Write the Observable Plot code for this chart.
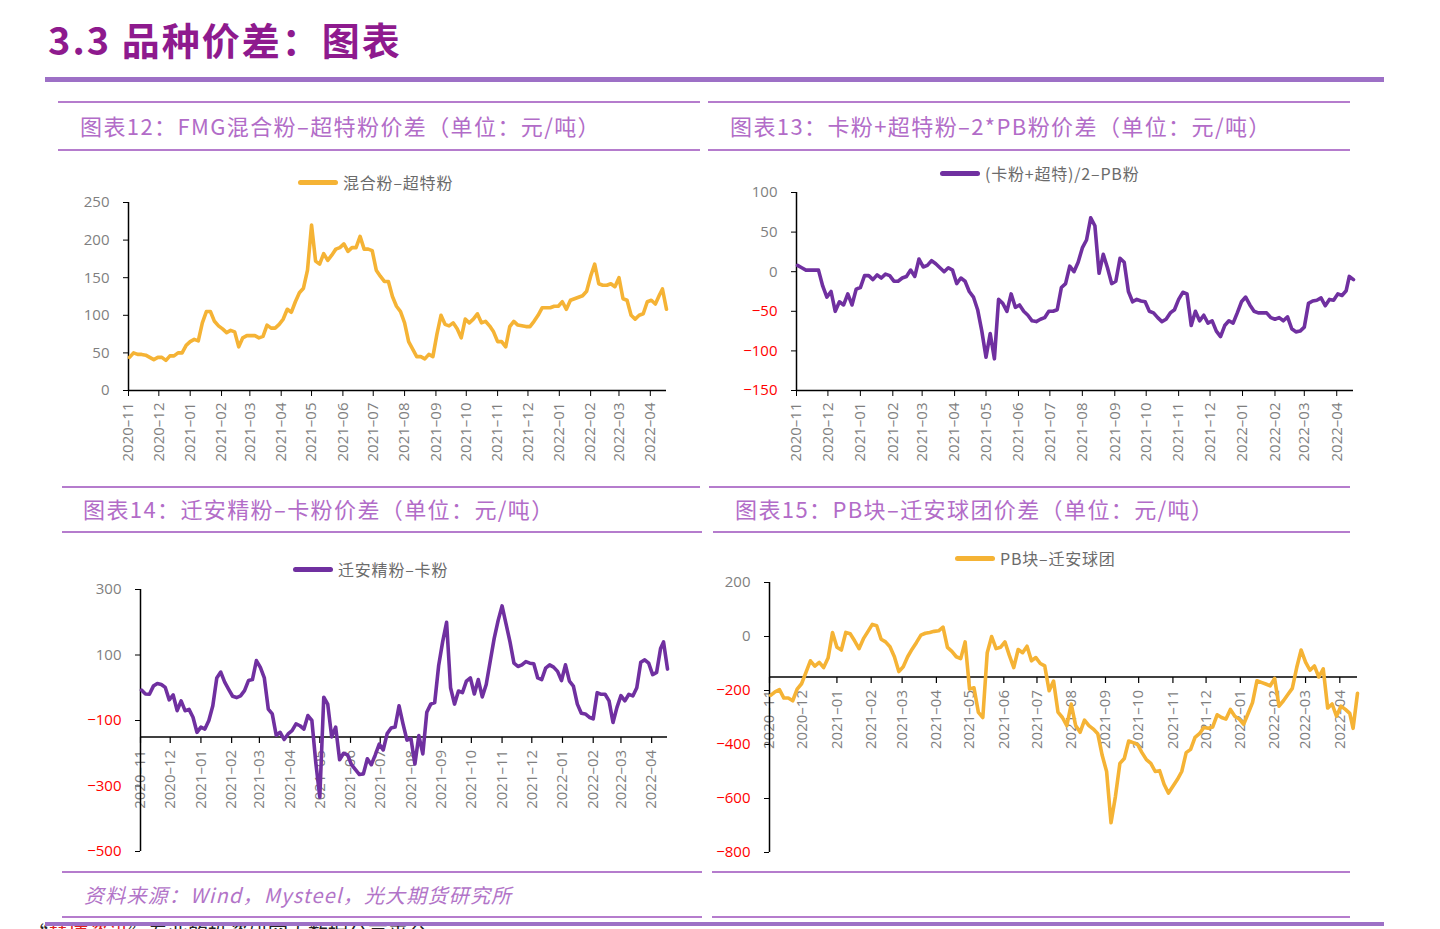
<!DOCTYPE html>
<html><head><meta charset="utf-8">
<script src="https://cdn.jsdelivr.net/npm/d3@7"></script>
<script src="https://cdn.jsdelivr.net/npm/@observablehq/plot@0.6"></script>
<style>
body{margin:0;width:1440px;height:929px;overflow:hidden;background:#fff;position:relative;font-family:"Noto Sans CJK SC","Noto Sans",sans-serif;}
.abs{position:absolute;}
.hline{position:absolute;height:2px;background:#b57ccd;}
.head{position:absolute;font-size:22px;letter-spacing:1.4px;color:#b26cc8;white-space:nowrap;line-height:26px;}
.leg{position:absolute;font-size:16px;letter-spacing:0.8px;color:#6b6b6b;white-space:nowrap;line-height:18px;display:flex;align-items:center;}
.leg span.sw{display:inline-block;width:40px;height:5px;border-radius:3px;margin-right:5px;}
.panel{position:absolute;}
</style></head><body>
<div class="abs" style="left:48px;top:13px;font-size:38px;letter-spacing:2px;font-weight:700;color:#8e1a8e;white-space:nowrap;line-height:52px;">3.3 品种价差：图表</div>
<div class="abs" style="left:45px;top:77px;width:1339px;height:5px;background:#9d70c6;"></div>

<div class="hline" style="left:58px;top:101px;width:642px;"></div>
<div class="hline" style="left:58px;top:149px;width:642px;"></div>
<div class="hline" style="left:708px;top:101px;width:642px;"></div>
<div class="hline" style="left:708px;top:149px;width:642px;"></div>
<div class="head" style="left:80px;top:112px;">图表12：FMG混合粉–超特粉价差（单位：元/吨）</div>
<div class="head" style="left:730px;top:112px;">图表13：卡粉+超特粉–2*PB粉价差（单位：元/吨）</div>

<div class="hline" style="left:62px;top:486px;width:638px;"></div>
<div class="hline" style="left:62px;top:531px;width:640px;"></div>
<div class="hline" style="left:709px;top:486px;width:641px;"></div>
<div class="hline" style="left:713px;top:531px;width:637px;"></div>
<div class="head" style="left:83px;top:495px;">图表14：迁安精粉–卡粉价差（单位：元/吨）</div>
<div class="head" style="left:735px;top:495px;">图表15：PB块–迁安球团价差（单位：元/吨）</div>

<div class="hline" style="left:62px;top:871px;width:640px;"></div>
<div class="hline" style="left:62px;top:916px;width:640px;"></div>
<div class="hline" style="left:712px;top:871px;width:638px;"></div>
<div class="hline" style="left:712px;top:916px;width:638px;"></div>
<div class="abs" style="left:84px;top:881px;font-size:20px;letter-spacing:1.2px;font-style:italic;color:#b274c8;white-space:nowrap;line-height:28px;">资料来源：Wind，Mysteel，光大期货研究所</div>
<div class="abs" style="left:28px;top:921px;font-size:20px;color:#222;white-space:nowrap;line-height:24px;">“<span style="color:#e02020">慧博资讯</span>”专业的投资研究大数据分享平台</div>
<div class="abs" style="left:45px;top:922px;width:1339px;height:4px;background:#9d70c6;"></div>

<div class="leg" style="left:298px;top:173px;"><span class="sw" style="background:#f5b335"></span>混合粉–超特粉</div>
<div class="leg" style="left:940px;top:164px;"><span class="sw" style="background:#7030a0"></span>(卡粉+超特)/2–PB粉</div>
<div class="leg" style="left:293px;top:560px;"><span class="sw" style="background:#7030a0"></span>迁安精粉–卡粉</div>
<div class="leg" style="left:955px;top:549px;"><span class="sw" style="background:#f5b335"></span>PB块–迁安球团</div>

<div id="p1" class="panel" style="left:60px;top:160px;"></div>
<div id="p2" class="panel" style="left:720px;top:150px;"></div>
<div id="p3" class="panel" style="left:60px;top:540px;"></div>
<div id="p4" class="panel" style="left:700px;top:540px;"></div>

<script>
const dates = [
"2020-11-02","2020-11-06","2020-11-10","2020-11-14","2020-11-18","2020-11-22","2020-11-26","2020-11-30",
"2020-12-04","2020-12-08","2020-12-12","2020-12-16","2020-12-20","2020-12-24","2020-12-28",
"2021-01-01","2021-01-05","2021-01-09","2021-01-13","2021-01-17","2021-01-21","2021-01-25","2021-01-29",
"2021-02-02","2021-02-06","2021-02-10","2021-02-14","2021-02-18","2021-02-22","2021-02-26",
"2021-03-02","2021-03-06","2021-03-10","2021-03-14","2021-03-18","2021-03-22","2021-03-26","2021-03-30",
"2021-04-03","2021-04-07","2021-04-11","2021-04-15","2021-04-19","2021-04-23","2021-04-27",
"2021-05-01","2021-05-05","2021-05-09","2021-05-13","2021-05-17","2021-05-21","2021-05-25","2021-05-29",
"2021-06-02","2021-06-06","2021-06-10","2021-06-14","2021-06-18","2021-06-22","2021-06-26","2021-06-30",
"2021-07-04","2021-07-08","2021-07-12","2021-07-16","2021-07-20","2021-07-24","2021-07-28",
"2021-08-01","2021-08-05","2021-08-09","2021-08-13","2021-08-17","2021-08-21","2021-08-25","2021-08-29",
"2021-09-02","2021-09-06","2021-09-10","2021-09-14","2021-09-18","2021-09-22","2021-09-26","2021-09-30",
"2021-10-04","2021-10-08","2021-10-12","2021-10-16","2021-10-20","2021-10-24","2021-10-28",
"2021-11-01","2021-11-05","2021-11-09","2021-11-13","2021-11-17","2021-11-21","2021-11-25","2021-11-29",
"2021-12-03","2021-12-07","2021-12-11","2021-12-15","2021-12-19","2021-12-23","2021-12-27","2021-12-31",
"2022-01-04","2022-01-08","2022-01-12","2022-01-16","2022-01-20","2022-01-24","2022-01-28",
"2022-02-01","2022-02-05","2022-02-09","2022-02-13","2022-02-17","2022-02-21","2022-02-25",
"2022-03-01","2022-03-05","2022-03-09","2022-03-13","2022-03-17","2022-03-21","2022-03-25","2022-03-29",
"2022-04-02","2022-04-06","2022-04-10","2022-04-13","2022-04-17"
];

const monthTicks = ["2020-11-01","2020-12-01","2021-01-01","2021-02-01","2021-03-01","2021-04-01","2021-05-01","2021-06-01","2021-07-01","2021-08-01","2021-09-01","2021-10-01","2021-11-01","2021-12-01","2022-01-01","2022-02-01","2022-03-01","2022-04-01"];

// 图表12：FMG混合粉–超特粉
const fmgMinusSuper = [
44,50,48,48,47,44,41,44,
44,40,46,46,50,50,60,
65,68,66,90,105,105,92,86,
82,77,80,78,58,70,73,
73,73,70,72,87,83,83,88,
95,108,104,118,130,136,160,
220,172,168,182,173,180,188,190,
195,185,190,190,205,188,188,186,
160,152,145,145,125,112,105,
90,65,55,45,45,42,48,45,
75,100,88,86,90,82,70,95,
90,95,102,90,92,86,78,
65,65,58,85,92,87,86,85,
85,92,100,110,110,110,112,112,
118,108,120,122,124,126,132,
152,168,142,140,140,142,138,
150,122,120,100,95,100,102,118,
120,115,127,135,108
];

// 图表13：(卡粉+超特)/2–PB粉
const kaSuperMinusPB = [
8,5,2,2,2,2,-18,-32,
-25,-50,-38,-42,-28,-42,-22,
-20,-5,-5,-10,-4,-8,-3,-5,
-12,-12,-8,-6,2,-6,16,
6,8,14,10,5,0,5,2,
-15,-8,-12,-25,-32,-48,-75,
-108,-78,-110,-35,-40,-50,-28,-45,
-42,-50,-55,-62,-63,-60,-58,-50,
-50,-48,-20,-15,7,0,12,
30,40,68,58,-2,22,5,-15,
-12,17,12,-25,-38,-35,-37,-38,
-50,-52,-58,-63,-60,-52,-48,
-35,-26,-28,-68,-50,-62,-55,-65,
-62,-75,-82,-68,-62,-65,-52,-38,
-32,-42,-50,-52,-52,-52,-58,
-60,-58,-62,-57,-72,-76,-75,
-70,-40,-37,-36,-33,-43,-35,-36,
-28,-30,-24,-6,-10
];

// 图表14：迁安精粉–卡粉
const qiananMinusKa = [
-7,-19,-20,5,13,10,1,-37,
-22,-70,-40,-70,-66,-90,-136,
-120,-126,-100,-55,30,48,17,-5,
-26,-30,-25,-9,22,25,83,
62,30,-65,-80,-145,-136,-158,-141,
-131,-110,-116,-126,-85,-100,-230,
-334,-29,-50,-150,-120,-220,-200,-205,
-235,-250,-265,-263,-217,-235,-205,-172,
-190,-140,-123,-120,-55,-110,-160,
-155,-233,-146,-202,-75,-50,-45,68,
140,200,0,-50,-10,-15,20,30,
-19,25,-28,10,80,150,205,
250,195,140,75,65,70,80,75,
73,30,25,60,70,63,50,22,
70,20,5,-50,-78,-80,-90,
-95,-15,-20,-20,-40,-106,-60,
-24,-40,-20,-25,0,78,85,75,
40,47,120,140,57
];

// 图表15：PB块–迁安球团
const pbLumpMinusPellet = [
-218,-205,-197,-228,-228,-238,-195,-175,
-133,-90,-110,-96,-115,-80,15,
-40,-50,15,10,-16,-45,-8,18,
45,40,-10,-20,-38,-75,-130,
-112,-75,-47,-22,5,12,15,19,
21,35,-40,-55,-75,-82,-20,
-195,-190,-281,-300,-60,0,-45,-40,
-20,-70,-115,-48,-60,-36,-90,-78,
-100,-109,-201,-165,-280,-300,-330,
-250,-330,-355,-310,-330,-343,-360,-440,
-500,-690,-592,-470,-452,-387,-393,-400,
-430,-456,-470,-500,-497,-547,-580,
-555,-530,-500,-430,-418,-374,-360,-337,
-340,-335,-290,-300,-306,-270,-295,-306,
-325,-285,-245,-164,-170,-176,-183,
-155,-258,-238,-215,-192,-115,-50,
-95,-125,-109,-150,-120,-265,-250,-295,
-258,-270,-285,-340,-210
];

const ORANGE = "#f5b335", PURPLE = "#7030a0";
const xStart = new Date("2020-11-01"), xEnd = new Date("2022-04-17");
const fmtMonth = d => d3.utcFormat("%Y")(d) + "–" + d3.utcFormat("%m")(d);
const tickSym = {draw(ctx){ ctx.moveTo(0,0); ctx.lineTo(0,6); }};

function panel(id, {vals, color, yDomain, yTicks, width, height, m, axisAt}) {
  const data = dates.map((d,i) => ({date: new Date(d), v: vals[i]}));
  const months = monthTicks.map(d => new Date(d));
  const neg = yTicks.filter(t => t < 0), pos = yTicks.filter(t => t >= 0);
  const marks = [];
  marks.push(Plot.axisY({ticks: yTicks, tickSize: 5, tickFormat: () => "", color: "#000", label: null}));
  marks.push(Plot.axisY({ticks: pos, tickSize: 0, tickPadding: 19, color: "#7f7f7f", fontSize: 15, label: null}));
  if (neg.length) marks.push(Plot.axisY({ticks: neg, tickSize: 0, tickPadding: 19, color: "#ff0000", fontSize: 15, label: null}));
  if (axisAt === null) {
    marks.push(Plot.axisX({ticks: months, tickSize: 6, tickFormat: () => "", color: "#000", label: null}));
    marks.push(Plot.axisX({ticks: months, tickSize: 0, tickPadding: 12, tickRotate: -90, tickFormat: fmtMonth, color: "#7f7f7f", fontSize: 15, label: null}));
    marks.push(Plot.ruleY([yDomain[0]], {stroke: "#000", strokeWidth: 1.5}));
  } else {
    marks.push(Plot.text(months, {x: d => d, y: () => axisAt, text: fmtMonth, rotate: -90, textAnchor: "end", dy: 13, fill: "#7f7f7f", fontSize: 15}));
    marks.push(Plot.ruleY([axisAt], {stroke: "#000", strokeWidth: 1.5}));
    marks.push(Plot.dot(months, {x: d => d, y: () => axisAt, symbol: tickSym, stroke: "#000", fill: "none", strokeWidth: 1.2}));
  }
  marks.push(Plot.ruleX([xStart], {stroke: "#000", strokeWidth: 1.5}));
  marks.push(Plot.line(data, {x: "date", y: "v", stroke: color, strokeWidth: 3.6, strokeLinejoin: "round", curve: "linear"}));
  const svg = Plot.plot({
    width, height,
    marginLeft: m[0], marginTop: m[1], marginRight: m[2], marginBottom: m[3],
    style: {fontFamily: "'Open Sans','DejaVu Sans',sans-serif", fontSize: "15px", background: "transparent", overflow: "visible"},
    x: {type: "utc", domain: [xStart, xEnd], axis: null},
    y: {domain: yDomain, axis: null},
    marks
  });
  document.getElementById(id).appendChild(svg);
}

panel("p1", {vals: fmgMinusSuper, color: ORANGE, yDomain: [0, 250], yTicks: [0,50,100,150,200,250],
  width: 620, height: 320, m: [68, 42, 14, 90], axisAt: null});
panel("p2", {vals: kaSuperMinusPB, color: PURPLE, yDomain: [-150, 100], yTicks: [-150,-100,-50,0,50,100],
  width: 640, height: 330, m: [76, 42, 7, 90], axisAt: null});
panel("p3", {vals: qiananMinusKa, color: PURPLE, yDomain: [-500, 300], yTicks: [-500,-300,-100,100,300],
  width: 620, height: 330, m: [80, 49, 13, 19], axisAt: -150});
panel("p4", {vals: pbLumpMinusPellet, color: ORANGE, yDomain: [-800, 200], yTicks: [-800,-600,-400,-200,0,200],
  width: 670, height: 330, m: [69, 42, 13, 18], axisAt: -150});
</script>
</body></html>
